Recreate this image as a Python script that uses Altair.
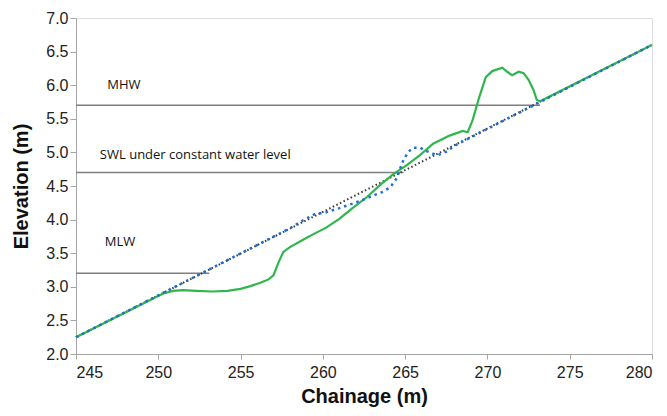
import altair as alt
import pandas as pd

# ---- data ----
chainage_ticks = [245, 250, 255, 260, 265, 270, 275, 280]
elev_ticks = [2.0, 2.5, 3.0, 3.5, 4.0, 4.5, 5.0, 5.5, 6.0, 6.5, 7.0]

# initial (planar) profile - black dotted
initial_x = [245, 280]
initial_y = [2.25, 6.6]

# blue dotted profile
blue_x = [245, 258.0, 258.8, 259.5, 260.2, 261.0, 261.6, 262.4, 263.0, 263.6, 264.1,
          264.5, 264.7, 264.9, 265.2, 265.5, 265.9, 266.3, 266.7, 267.0, 267.5, 268.0, 280]
blue_y = [2.25, 3.87, 3.99, 4.08, 4.11, 4.17, 4.22, 4.29, 4.35, 4.41, 4.48,
          4.62, 4.76, 4.89, 5.01, 5.07, 5.07, 5.02, 4.98, 4.96, 5.01, 5.10, 6.6]

# green solid profile
green_x = [245, 250.3, 250.9, 251.5, 252.3, 253.3, 254.2, 255.0, 255.6, 256.2, 256.7,
           257.0, 257.3, 257.6, 258.0, 258.8, 259.4, 260.2, 261.0, 261.8, 262.7, 263.5,
           264.3, 265.1, 265.9, 266.7, 267.7, 268.5, 268.8, 269.1, 269.5, 269.9, 270.3,
           270.9, 271.2, 271.5, 271.9, 272.2, 272.5, 272.8, 273.0, 273.2, 280]
green_y = [2.25, 2.90, 2.94, 2.95, 2.94, 2.93, 2.94, 2.97, 3.01, 3.06, 3.11,
           3.17, 3.36, 3.52, 3.59, 3.70, 3.78, 3.88, 4.01, 4.17, 4.34, 4.52,
           4.68, 4.81, 4.96, 5.13, 5.25, 5.32, 5.30, 5.48, 5.82, 6.12, 6.21,
           6.26, 6.20, 6.15, 6.20, 6.18, 6.08, 5.93, 5.78, 5.76, 6.6]

# water levels
level_names = ["MHW", "SWL under constant water level", "MLW"]
level_values = [5.7, 4.7, 3.2]
level_start = [245, 245, 245]
level_end = [273.2, 264.9, 253.1]
label_x = [246.9, 246.45, 246.75]
label_y = [6.0, 4.96, 3.67]

# ---- tables ----
initial_df = pd.DataFrame({"x": initial_x, "y": initial_y})
blue_df = pd.DataFrame({"x": blue_x, "y": blue_y})
green_df = pd.DataFrame({"x": green_x, "y": green_y})
levels_df = pd.DataFrame({"x": level_start, "x2": level_end, "y": level_values})
labels_df = pd.DataFrame({"x": label_x, "y": label_y, "text": level_names})

FONT = "Liberation Sans"
xs = alt.Scale(domain=[245, 280], nice=False, zero=False)
ys = alt.Scale(domain=[2, 7], nice=False, zero=False)

x_axis = alt.Axis(values=chainage_ticks, format="d", grid=False,
                  labelFontSize=16, labelFont=FONT, labelColor="#222",
                  titleFontSize=20, titleFont=FONT, titleFontWeight="bold", titleColor="#111",
                  tickSize=5, labelPadding=5, titlePadding=6,
                  domainColor="#a6a6a6", tickColor="#a6a6a6")
y_axis = alt.Axis(values=elev_ticks, format=".1f", grid=False,
                  labelFontSize=16, labelFont=FONT, labelColor="#222",
                  titleFontSize=20, titleFont=FONT, titleFontWeight="bold", titleColor="#111",
                  tickSize=6, labelPadding=2, titlePadding=14,
                  domainColor="#a6a6a6", tickColor="#a6a6a6")

X = alt.X("x:Q", scale=xs, axis=x_axis, title="Chainage (m)")
Y = alt.Y("y:Q", scale=ys, axis=y_axis, title="Elevation (m)")

rules = alt.Chart(levels_df).mark_rule(color="#7f7f7f", strokeWidth=1.5).encode(
    x=X, x2="x2:Q", y=Y)

labels = alt.Chart(labels_df).mark_text(
    align="left", baseline="middle", font="Open Sans", fontSize=13, color="#111"
).encode(x=X, y=Y, text="text:N")

initial = alt.Chart(initial_df).mark_line(
    color="#3a3a3a", strokeWidth=2, strokeDash=[1.5, 2.5]).encode(x=X, y=Y)

green = alt.Chart(green_df).mark_line(
    color="#2fb64c", strokeWidth=2.2, interpolate="linear").encode(x=X, y=Y)

blue = alt.Chart(blue_df).mark_line(
    color="#1f6fd0", strokeWidth=2.5, strokeDash=[2.5, 4]).encode(x=X, y=Y)

chart = alt.layer(rules, labels, initial, green, blue).properties(
    width=576, height=336,
    autosize=alt.AutoSizeParams(type="none"),
    padding={"left": 76, "top": 18, "right": 15, "bottom": 62},
).configure_view(stroke="#b3b3b3", strokeWidth=1.5).configure(background="white")

chart.save("out.html", embed_options={"renderer": "svg", "actions": False})
